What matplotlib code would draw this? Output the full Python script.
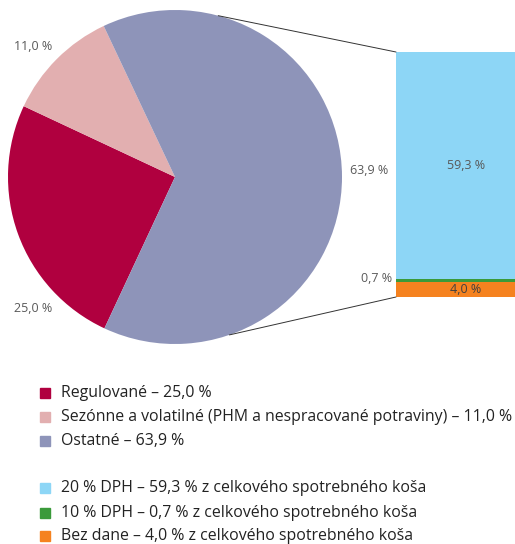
import matplotlib
matplotlib.use("Agg")
import matplotlib.pyplot as plt
from matplotlib.patches import ConnectionPatch, Rectangle
import numpy as np

plt.rcParams['font.family'] = ['Open Sans', 'DejaVu Sans']

# main pie: share of consumer basket
pie_labels = ["Regulované", "Sezónne a volatilné (PHM a nespracované potraviny)", "Ostatné"]
pie_values = [25.0, 11.0, 63.9]
pie_colors = ["#B0003F", "#E2AFB0", "#8E94B9"]

# split of "Ostatné" by VAT rate (bottom to top)
bar_labels = ["Bez dane", "10 % DPH", "20 % DPH"]
bar_values = [4.0, 0.7, 59.3]
bar_colors = ["#F5821F", "#3A9A3A", "#8DD6F6"]

W, H = 515, 544
fig = plt.figure(figsize=(W / 100, H / 100), dpi=100)
grey = "#595959"


def px_box(x0, y0, x1, y1):
    # pixel box (top-left origin) -> figure fraction rect
    return [x0 / W, 1 - y1 / H, (x1 - x0) / W, (y1 - y0) / H]


def fmt(v):
    return f"{v:.1f}".replace(".", ",") + " %"


# pie
cx, cy, r = 175, 177, 167
ax = fig.add_axes(px_box(cx - r, cy - r, cx + r, cy + r))
wedges, _ = ax.pie(pie_values, colors=pie_colors, startangle=245, counterclock=False,
                   radius=1, wedgeprops=dict(linewidth=0))
ax.set_xlim(-1, 1)
ax.set_ylim(-1, 1)
ax.axis("off")

ax.text(-0.85, 0.78, fmt(pie_values[1]), ha="center", va="center", fontsize=9, color=grey)
ax.text(-0.85, -0.79, fmt(pie_values[0]), ha="center", va="center", fontsize=9, color=grey)
ax.text(1.16, 0.04, fmt(pie_values[2]), ha="center", va="center", fontsize=9, color=grey)

# stacked bar
bx = fig.add_axes(px_box(396, 52, 530, 297))
bottom = 0
for v, c in zip(bar_values, bar_colors):
    bx.bar(0, v, bottom=bottom, width=1, color=c, edgecolor="none")
    bottom += v
bx.set_xlim(-0.5, 0.5)
bx.set_ylim(0, sum(bar_values))
bx.axis("off")

bx.text(0.52, bar_values[0] + bar_values[1] + bar_values[2] / 2, fmt(bar_values[2]),
        transform=bx.get_yaxis_transform(), ha="center", va="center", fontsize=9, color=grey)
bx.text(0.52, bar_values[0] / 2, fmt(bar_values[0]),
        transform=bx.get_yaxis_transform(), ha="center", va="center", fontsize=9, color="#404040")
bx.text(-0.03, bar_values[0] + bar_values[1] / 2 + 0.4, fmt(bar_values[1]),
        transform=bx.get_yaxis_transform(), ha="right", va="center", fontsize=9, color=grey,
        clip_on=False)

# connector lines
for ang, yb in [(75, sum(bar_values)), (-71, 0)]:
    a = np.deg2rad(ang)
    con = ConnectionPatch(xyA=(np.cos(a), np.sin(a)), coordsA=ax.transData,
                          xyB=(0, yb), coordsB=bx.get_yaxis_transform(),
                          color="#333333", linewidth=0.7)
    fig.add_artist(con)

# legend
rows = [(pie_labels[0] + " – " + fmt(pie_values[0]), pie_colors[0], 393),
        (pie_labels[1] + " – " + fmt(pie_values[1]), pie_colors[1], 417),
        (pie_labels[2] + " – " + fmt(pie_values[2]), pie_colors[2], 441),
        (bar_labels[2] + " – " + fmt(bar_values[2]) + " z celkového spotrebného koša", bar_colors[2], 488),
        (bar_labels[1] + " – " + fmt(bar_values[1]) + " z celkového spotrebného koša", bar_colors[1], 513),
        (bar_labels[0] + " – " + fmt(bar_values[0]) + " z celkového spotrebného koša", bar_colors[0], 536)]
for text, col, y in rows:
    fig.add_artist(Rectangle((40 / W, 1 - (y + 5) / H), 10 / W, 10 / H,
                             transform=fig.transFigure, color=col))
    fig.text(61 / W, 1 - y / H, text, ha="left", va="center", fontsize=11.4, color="#222222")

fig.savefig("out.png", dpi=100)
